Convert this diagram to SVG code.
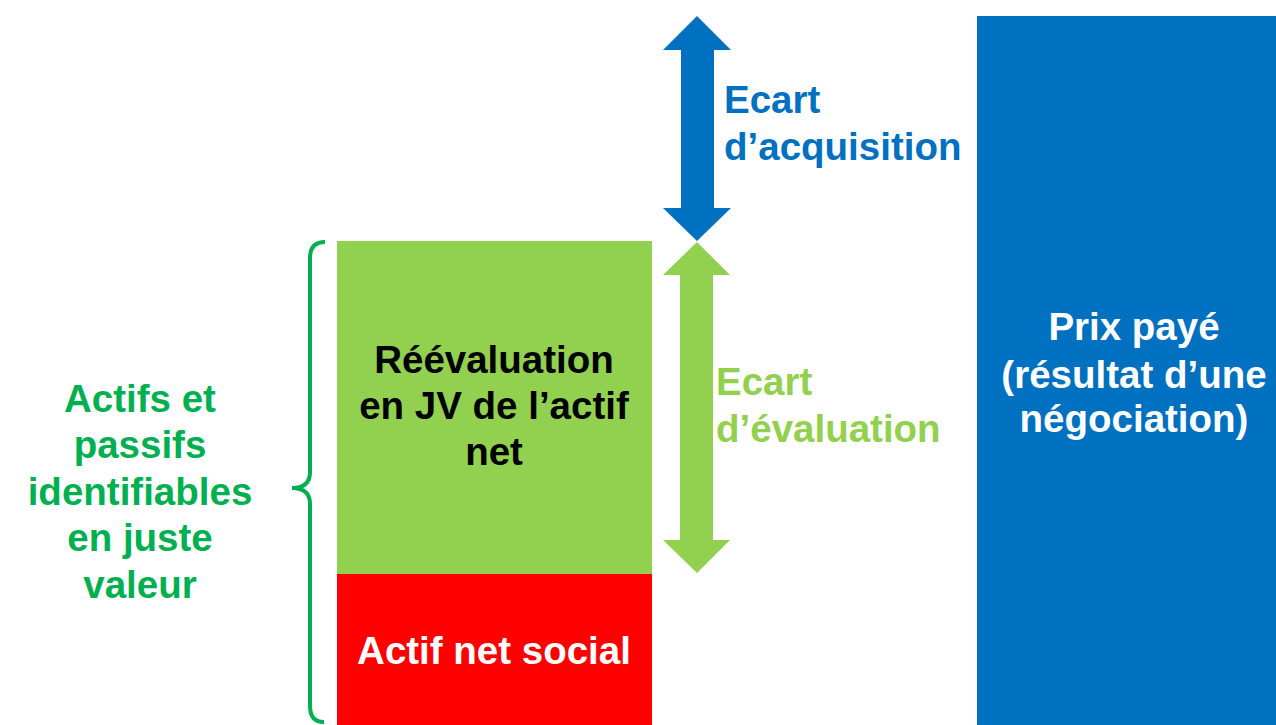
<svg xmlns="http://www.w3.org/2000/svg" width="1276" height="725" viewBox="0 0 1276 725">
<style>
text{font-family:"Liberation Sans",Arial,sans-serif;font-weight:bold;font-size:38.5px;text-anchor:middle}
.l{text-anchor:start}
</style>
<rect width="1276" height="725" fill="#ffffff"/>
<g id="prix">
<rect x="977" y="16" width="299" height="709" fill="#0070c0"/>
<text fill="#ffffff"><tspan x="1134" y="340">Prix payé</tspan><tspan x="1134" y="388">(résultat d’une</tspan><tspan x="1134" y="432">négociation)</tspan></text>
</g>
<g id="reevaluation">
<rect x="337" y="241" width="315" height="333" fill="#92d050"/>
<text fill="#000000"><tspan x="494" y="373">Réévaluation</tspan><tspan x="494" y="419">en JV de l’actif</tspan><tspan x="494" y="465">net</tspan></text>
</g>
<g id="actif-net">
<rect x="337" y="574" width="315" height="151" fill="#ff0000"/>
<text x="494" y="664" fill="#ffffff">Actif net social</text>
</g>
<g id="actifs-passifs">
<path d="M325 242 Q310 242 310 258 L310 472 Q310 488 292 488 Q310 488 310 504 L310 706 Q310 722 324 722" fill="none" stroke="#00b050" stroke-width="4"/>
<text fill="#00b050"><tspan x="140" y="412">Actifs et</tspan><tspan x="140" y="458">passifs</tspan><tspan x="140" y="505">identifiables</tspan><tspan x="140" y="551">en juste</tspan><tspan x="140" y="598">valeur</tspan></text>
</g>
<g id="connectors">
<polygon id="ecart-acquisition-arrow" points="697,16 731,50 714,50 714,208 731,208 697,241 663,208 681,208 681,50 663,50" fill="#0070c0"/>
<polygon id="ecart-evaluation-arrow" points="697,242 730,275 713,275 713,540 730,540 697,573 663,540 680,540 680,275 663,275" fill="#92d050"/>
</g>
<g id="label-acquisition">
<text class="l" fill="#0070c0"><tspan x="724" y="113">Ecart</tspan><tspan x="724" y="160">d’acquisition</tspan></text>
</g>
<g id="label-evaluation">
<text class="l" fill="#92d050"><tspan x="716" y="395">Ecart</tspan><tspan x="716" y="442">d’évaluation</tspan></text>
</g>
</svg>
